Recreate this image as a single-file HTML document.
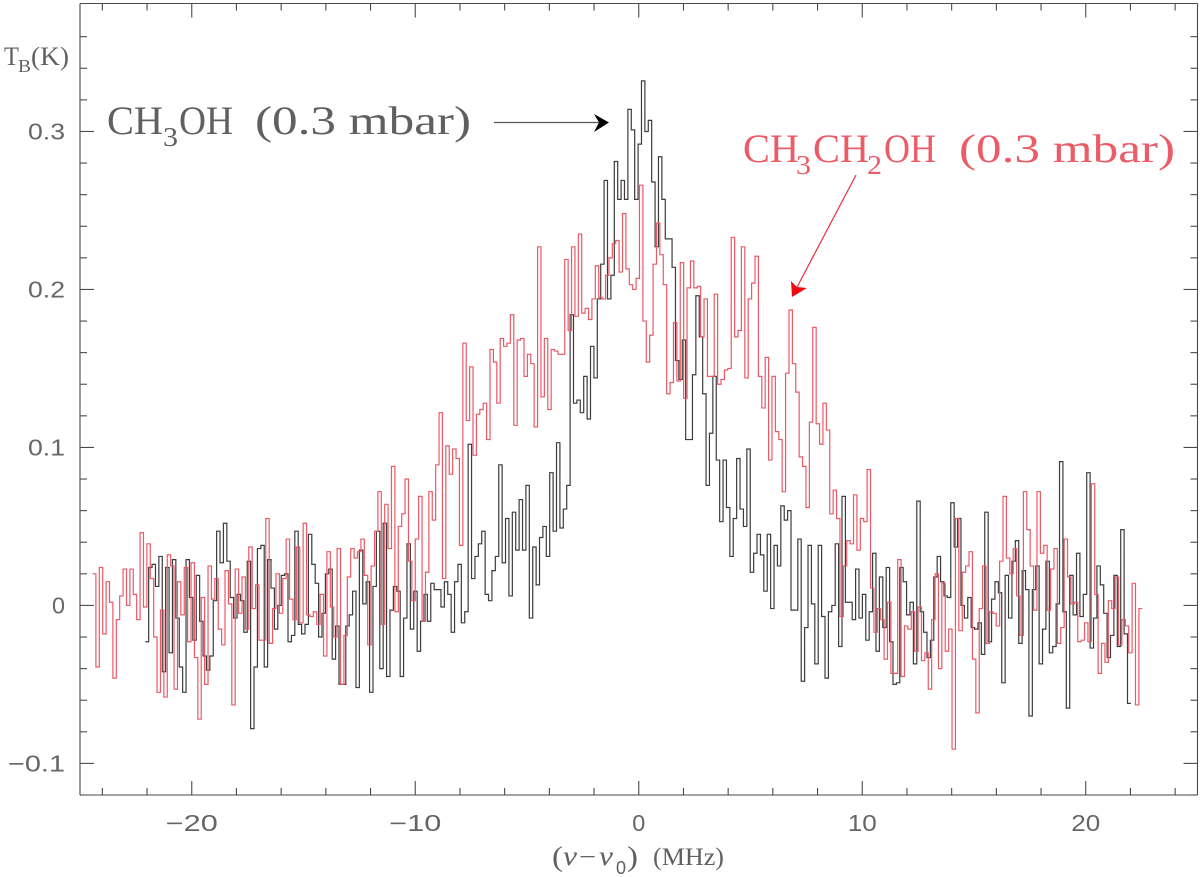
<!DOCTYPE html>
<html lang="en">
<head>
<meta charset="utf-8">
<title>Spectra of CH3OH and CH3CH2OH</title>
<style>
html,body{margin:0;padding:0;background:#fff;width:1200px;height:877px;overflow:hidden}
svg{display:block}
text{font-family:"Liberation Serif","DejaVu Serif",serif}
.tick{font-family:"Liberation Sans","DejaVu Sans",sans-serif;font-size:23px;fill:#666}
.gr{fill:#606060}
.rd{fill:#ec5c68}
</style>
</head>
<body>
<svg id="chart" xmlns="http://www.w3.org/2000/svg" width="1200" height="877" viewBox="0 0 1200 877">
  <rect x="0" y="0" width="1200" height="877" fill="#fff"/>
  <g id="series" fill="none"></g>
  <g id="axes"></g>

  <g class="gr">
    <text x="4" y="65" font-size="26" textLength="15" lengthAdjust="spacingAndGlyphs">T</text>
    <text x="18" y="72" font-size="18" textLength="13" lengthAdjust="spacingAndGlyphs">B</text>
    <text x="31" y="65" font-size="26" textLength="38" lengthAdjust="spacingAndGlyphs">(K)</text>
  </g>

  <g class="gr">
    <text x="552" y="866" font-size="29" textLength="11" lengthAdjust="spacingAndGlyphs">(</text>
    <text x="563" y="865" font-size="27" font-style="italic" textLength="14" lengthAdjust="spacingAndGlyphs">ν</text>
    <text x="579" y="865" font-size="25" textLength="17" lengthAdjust="spacingAndGlyphs">−</text>
    <text x="599" y="865" font-size="27" font-style="italic" textLength="14" lengthAdjust="spacingAndGlyphs">ν</text>
    <text x="616" y="874" font-size="18" style="font-family:'Liberation Sans',sans-serif">0</text>
    <text x="627" y="866" font-size="29" textLength="11" lengthAdjust="spacingAndGlyphs">)</text>
    <text x="653" y="865" font-size="25" textLength="71" lengthAdjust="spacingAndGlyphs">(MHz)</text>
  </g>

  <g class="gr">
    <text x="107" y="134" font-size="40" textLength="56" lengthAdjust="spacingAndGlyphs">CH</text>
    <text x="163" y="146" font-size="27" textLength="15" lengthAdjust="spacingAndGlyphs">3</text>
    <text x="179" y="134" font-size="40" textLength="54" lengthAdjust="spacingAndGlyphs">OH</text>
    <text x="255" y="134" font-size="40" textLength="216" lengthAdjust="spacingAndGlyphs">(0.3 mbar)</text>
  </g>
  <g>
    <line x1="494" y1="122.5" x2="604" y2="122.5" stroke="#555" stroke-width="1.2"/>
    <polygon points="609,122.5 594,114 599,122.5 594,132" fill="#000"/>
  </g>

  <g class="rd">
    <text x="743" y="162" font-size="40" textLength="56" lengthAdjust="spacingAndGlyphs">CH</text>
    <text x="796" y="174" font-size="27" textLength="15" lengthAdjust="spacingAndGlyphs">3</text>
    <text x="813" y="162" font-size="40" textLength="56" lengthAdjust="spacingAndGlyphs">CH</text>
    <text x="867" y="174" font-size="27" textLength="15" lengthAdjust="spacingAndGlyphs">2</text>
    <text x="884" y="162" font-size="40" textLength="52" lengthAdjust="spacingAndGlyphs">OH</text>
    <text x="959" y="162" font-size="40" textLength="216" lengthAdjust="spacingAndGlyphs">(0.3 mbar)</text>
  </g>
  <g>
    <line x1="856" y1="175" x2="795" y2="291" stroke="#e5303c" stroke-width="1.2"/>
    <polygon points="792,297 791,281 797,287 807,288" fill="#ee0a14"/>
  </g>
</svg>

<script>
// Axis limits (data units)
const xDomain = [-25, 25];
const yDomain = [-0.12, 0.381];

// Tick values and printed labels
const xMinorTicks = [-24,-22,-18,-16,-14,-12,-8,-6,-4,-2,2,4,6,8,12,14,16,18,22,24];
const xMajorTicks = [-20,-10,0,10,20];
const xTickLabels = ["−20","−10","0","10","20"];
const yMinorTicks = [-0.12,-0.08,-0.06,-0.04,-0.02,0.02,0.04,0.06,0.08,0.12,0.14,0.16,0.18,0.22,0.24,0.26,0.28,0.32,0.34,0.36];
const yMajorTicks = [-0.1,0,0.1,0.2,0.3];
const yTickLabels = ["−0.1","0","0.1","0.2","0.3"];

// Spectrometer channel range of each spectrum (MHz)
const methanolRange = [-22.08, 22.02];
const ethanolRange = [-24.44, 22.53];

// Brightness temperature per channel (K)
const methanolValues = [
-0.023,0.024,0.026,0.012,0.031,-0.042,0.024,-0.030,0.029,-0.008,-0.039,-0.055,0.029,0.005,-0.022,0.019,-0.010,-0.032,-0.041,-0.032,
0.003,0.047,0.027,0.052,0.028,0.005,-0.008,0.007,0.003,-0.017,0.028,-0.078,-0.039,0.036,0.038,-0.039,0.029,0.011,-0.015,0,
0.019,0.020,-0.023,-0.019,0.047,-0.012,-0.018,-0.012,0.045,0.026,0.014,-0.020,-0.005,0.020,0.023,-0.034,-0.013,-0.050,-0.050,-0.013,
-0.006,0.009,-0.052,0.035,
0.001,0.015,-0.055,0.012,0.047,-0.040,0.052,-0.045,-0.003,0.012,0.009,-0.045,-0.008,0.039,-0.015,0.009,-0.029,-0.010,0.007,-0.010,
0.014,0.010,0.010,-0.001,0.015,0.007,-0.017,0.015,0.026,-0.011,-0.004,0.102,0.017,0.031,0.039,0.047,0.007,0.003,0.022,0.031,
0.089,0.027,0.055,0.006,0.059,0.035,0.067,0.035,0.076,-0.008,0.037,0.013,0.043,0.050,0.031,0.084,0.047,0.103,0.049,0.061,
0.076,0.184,0.128,0.130,0.122,0.145,0.118,0.164,0.144,
0.194,0.216,0.269,0.194,0.209,0.281,0.257,0.269,0.257,0.314,0.301,0.257,0.292,0.332,0.300,0.307,0.268,0.227,0.284,0.257,
0.232,0.232,0.214,0.155,0.143,0.168,0.105,0.105,0.146,0.196,0.170,0.134,
0.076,0.109,0.145,0.092,0.053,0.092,0.062,0.031,0.055,0.093,0.061,0.050,0.099,0.021,0.033,0.045,0.032,0.009,0.045,-0.002,
0.038,0.025,0.063,0.054,0.060,-0.003,-0.003,0.042,-0.048,-0.014,0.038,0.001,-0.037,0.038,-0.007,-0.046,-0.004,0,0.039,-0.026,
0.069,0.002,0.002,-0.009,0.023,-0.008,0.007,-0.022,-0.004,0.033,-0.029,0.018,-0.014,0.024,-0.023,-0.050,-0.049,0.024,
0.015,-0.006,0.002,-0.037,0.066,-0.004,-0.017,-0.033,-0.022,0.018,0.031,0.015,0.006,0.005,0.065,0.037,0.055,0,-0.008,0.005,
-0.014,-0.015,-0.011,-0.031,0.059,-0.023,0.004,0.015,0.008,-0.049,0.019,-0.008,0.028,0.041,-0.024,0.022,0.010,-0.070,0.010,0.025,
-0.037,-0.015,0.028,-0.030,-0.026,0.001,0.091,-0.004,-0.065,0.019,-0.006,0.033,-0.007,0.007,0.084,-0.027,-0.008,0.025,0.013,-0.005,
-0.033,-0.019,0.019,-0.026,0.048,-0.018,-0.062
];

const ethanolValues = [
0.020,-0.039,0.024,-0.018,0.015,0.002,-0.046,-0.009,0.006,0.023,0,0.023,0.007,-0.009,0.046,-0.001,0.039,0.017,-0.020,-0.055,
-0.003,-0.058,0.032,0.025,-0.053,0.015,-0.006,0.024,-0.023,0.027,-0.033,-0.072,0.005,-0.050,0.025,0.004,0.017,-0.015,-0.025,0.022,
0.001,-0.063,0.023,-0.005,0.018,-0.015,0.037,-0.002,0.013,-0.022,-0.022,0.055,-0.024,-0.002,0.020,-0.005,0.017,0.042,0.004,-0.009,
0.037,-0.011,0.052,-0.006,-0.007,-0.004,-0.012,0.007,-0.032,0.034,-0.001,-0.020,0.036,-0.050,-0.019,0.018,0.036,0.030,0.034,
0.042,0.019,-0.025,0.025,0.047,0.072,-0.012,0.064,0.036,0.088,-0.004,0.050,0.058,0.080,0.028,0.003,0.042,0.069,-0.010,0.021,
0.072,0.054,0.089,0.122,0.017,0.101,0.083,0.099,0.093,0.038,0.166,0.117,0.151,0.095,0.121,0.124,0.128,0.105,0.162,0.154,
0.128,0.169,0.164,0.166,0.184,0.114,0.168,0.169,0.145,0.159,0.153,0.113,0.227,0.132,0.169,0.124,0.162,0.161,0.159,0.159,
0.219,0.174,0.227,0.183,0.235,0.185,0.188,0.181,0.194,0.215,0.195,0.194,0.209,0.220,0.229,0.231,0.211,0.248,0.213,0.203,
0.200,0.207,0.266,0.180,0.154,0.171,0.216,0.242,0.222,0.203,0.134,0.141,0.179,0.142,0.217,0.131,0.201,0.218,0.201,0.202,
0.170,0.194,0.145,0.145,0.197,0.140,0.143,0.149,0.150,0.233,0.170,0.174,0.227,0.144,0.194,0.204,0.221,0.145,0.125,0.157,
0.092,0.145,0.110,0.105,0.072,0.147,0.187,0.153,0.135,0.094,0.088,0.062,0.116,0.176,0.115,0.102,0.128,0.111,
0.058,0.073,0.055,-0.007,0.025,0.041,0.039,0.070,0.035,0.055,0.053,0.086,0.011,-0.017,-0.002,-0.009,-0.034,0.002,-0.043,-0.043,0.029,
-0.045,-0.013,-0.015,-0.004,-0.029,-0.001,-0.035,-0.030,-0.053,-0.009,0.020,-0.040,0.014,-0.029,-0.015,-0.091,0.055,-0.016,0.021,0.025,
0.034,-0.034,-0.068,-0.002,0.025,-0.024,-0.004,-0.005,-0.013,0.028,0.069,0.030,0.020,0.036,0.006,-0.019,0.072,0.048,0.025,-0.003,
0.072,0.033,0.038,-0.003,0.023,0.036,-0.024,-0.014,0.042,0.018,0.001,0.002,-0.023,-0.022,-0.011,-0.023,0.077,0.007,-0.043,-0.024,
-0.036,0.003,-0.002,0.018,-0.025,-0.009,-0.013,-0.030,0.014,-0.063,-0.002
];

const SVG_NS = "http://www.w3.org/2000/svg";
const PLOT = {left: 80, right: 1197.5, top: 3.5, bottom: 795};

function xScale(v) {
  return PLOT.left + (v - xDomain[0]) / (xDomain[1] - xDomain[0]) * (PLOT.right - PLOT.left);
}
function yScale(v) {
  return PLOT.bottom - (v - yDomain[0]) / (yDomain[1] - yDomain[0]) * (PLOT.bottom - PLOT.top);
}
function fmt(n) { return n.toFixed(2); }

const seriesLayer = document.getElementById("series");
const axesLayer = document.getElementById("axes");

function drawStep(values, range, color, name) {
  const width = (range[1] - range[0]) / values.length;
  let d = "";
  values.forEach(function (v, i) {
    const x0 = xScale(range[0] + i * width);
    const x1 = xScale(range[0] + (i + 1) * width);
    const y = yScale(v);
    d += (i === 0 ? "M" : "L") + fmt(x0) + " " + fmt(y) + "L" + fmt(x1) + " " + fmt(y);
  });
  const p = document.createElementNS(SVG_NS, "path");
  p.setAttribute("d", d);
  p.setAttribute("stroke", color);
  p.setAttribute("stroke-width", "1.2");
  p.setAttribute("fill", "none");
  
  
  seriesLayer.appendChild(p);
}

function addLine(x1, y1, x2, y2, name) {
  const l = document.createElementNS(SVG_NS, "line");
  l.setAttribute("x1", fmt(x1));
  l.setAttribute("y1", fmt(y1));
  l.setAttribute("x2", fmt(x2));
  l.setAttribute("y2", fmt(y2));
  l.setAttribute("stroke", "#4a4a4a");
  l.setAttribute("stroke-width", "1.1");
  
  
  axesLayer.appendChild(l);
}

function addLabel(x, y, anchor, str, length, name) {
  const t = document.createElementNS(SVG_NS, "text");
  t.setAttribute("x", fmt(x));
  t.setAttribute("y", fmt(y));
  t.setAttribute("text-anchor", anchor);
  t.setAttribute("class", "tick");
  t.setAttribute("textLength", String(length));
  t.setAttribute("lengthAdjust", "spacingAndGlyphs");
  
  
  t.textContent = str;
  axesLayer.appendChild(t);
}

drawStep(methanolValues, methanolRange, "#3c3c3c", "methanol-spectrum");
drawStep(ethanolValues, ethanolRange, "#ea5a66", "ethanol-spectrum");

addLine(PLOT.left, PLOT.top, PLOT.right, PLOT.top, "top-axis-line");
addLine(PLOT.left, PLOT.bottom, PLOT.right, PLOT.bottom, "x-axis-line");
addLine(PLOT.left, PLOT.top, PLOT.left, PLOT.bottom, "y-axis-line");
addLine(PLOT.right, PLOT.top, PLOT.right, PLOT.bottom, "right-axis-line");

xMinorTicks.forEach(function (v) {
  addLine(xScale(v), PLOT.bottom, xScale(v), PLOT.bottom - 7, "x-minor-tick");
  addLine(xScale(v), PLOT.top, xScale(v), PLOT.top + 7, "top-minor-tick");
});
xMajorTicks.forEach(function (v, i) {
  addLine(xScale(v), PLOT.bottom, xScale(v), PLOT.bottom - 14, "x-major-tick");
  addLine(xScale(v), PLOT.top, xScale(v), PLOT.top + 14, "top-major-tick");
  const label = xTickLabels[i];
  const len = label.length === 1 ? 13 : label.length === 2 ? 29 : 52;
  addLabel(xScale(v), 831, "middle", label, len, "x-tick-label");
});
yMinorTicks.forEach(function (v) {
  addLine(PLOT.left, yScale(v), PLOT.left + 7, yScale(v), "y-minor-tick");
  addLine(PLOT.right, yScale(v), PLOT.right - 7, yScale(v), "right-minor-tick");
});
yMajorTicks.forEach(function (v, i) {
  addLine(PLOT.left, yScale(v), PLOT.left + 14, yScale(v), "y-major-tick");
  addLine(PLOT.right, yScale(v), PLOT.right - 14, yScale(v), "right-major-tick");
  const label = yTickLabels[i];
  const len = label.length === 1 ? 13 : label.length === 3 ? 37 : 57;
  addLabel(65, yScale(v) + 8, "end", label, len, "y-tick-label");
});
</script>
</body>
</html>
